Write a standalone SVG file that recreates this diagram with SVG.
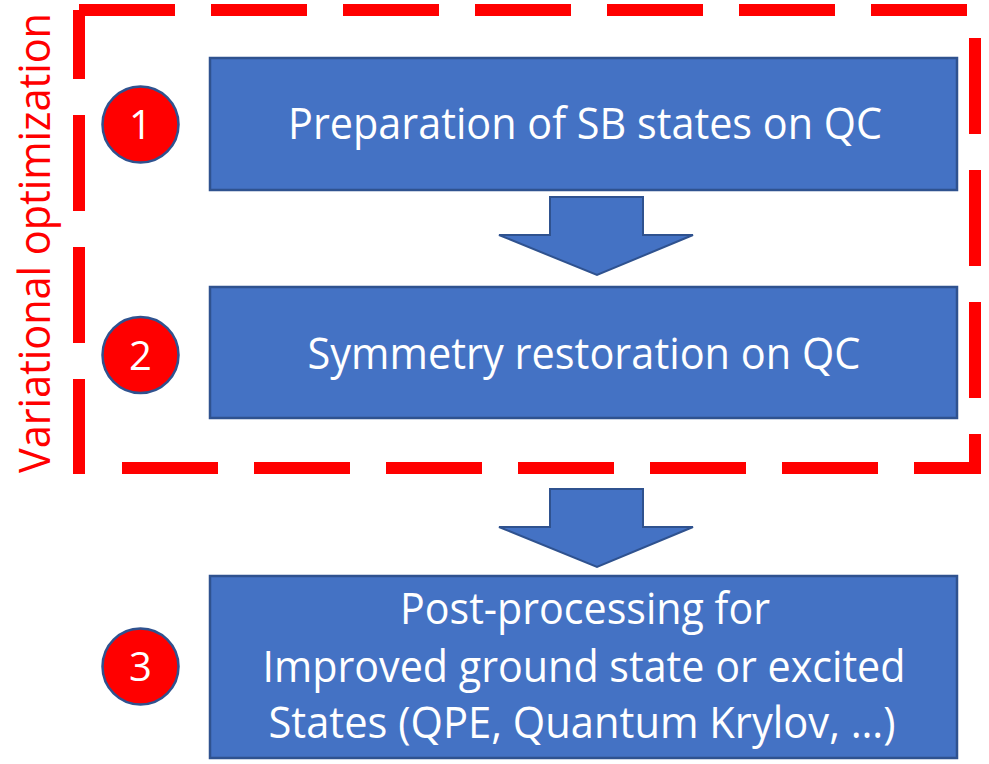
<svg xmlns="http://www.w3.org/2000/svg" width="989" height="764" viewBox="0 0 989 764">
<style>
.box{fill:#4472C4;stroke:#2F528F;stroke-width:2.5}
.arrow{fill:#4472C4;stroke:#2F528F;stroke-width:2;stroke-linejoin:miter}
.badge{fill:#FF0000;stroke:#2F528F;stroke-width:2.5}
.dash{stroke:#FF0000;stroke-width:12;fill:none;stroke-dasharray:96 36}
.lbl{font-family:"Open Sans","Liberation Sans",sans-serif;font-size:43px;fill:#FFFFFF;text-anchor:middle}
.num{font-family:"Open Sans","Liberation Sans",sans-serif;font-size:40px;fill:#FFFFFF;text-anchor:middle}
.side{font-family:"Open Sans","Liberation Sans",sans-serif;font-size:43px;fill:#FF0000}
</style>
<rect width="989" height="764" fill="#FFFFFF"/>
<g id="frame">
<line class="dash" x1="79" y1="10" x2="967" y2="10"/>
<line class="dash" x1="79" y1="10" x2="79" y2="474" stroke-dashoffset="27"/>
<line class="dash" x1="975" y1="38" x2="975" y2="474"/>
<line class="dash" x1="981" y1="468" x2="122" y2="468" stroke-dashoffset="29"/>
<text class="side" transform="translate(50,473) rotate(-90)" textLength="460" lengthAdjust="spacingAndGlyphs">Variational optimization</text>
</g>
<g id="connectors">
<polygon class="arrow" points="550,197 643,197 643,235 693,235 597,275 499,235 550,235"/>
<polygon class="arrow" points="550,489 643,489 643,527 693,527 597,567 499,527 550,527"/>
</g>
<g id="step1">
<rect class="box" x="210" y="58" width="747" height="132"/>
<text class="lbl" x="585" y="139" textLength="594" lengthAdjust="spacingAndGlyphs">Preparation of SB states on QC</text>
</g>
<g id="step2">
<rect class="box" x="210" y="287" width="747" height="131"/>
<text class="lbl" x="584" y="369" textLength="553" lengthAdjust="spacingAndGlyphs">Symmetry restoration on QC</text>
</g>
<g id="step3">
<rect class="box" x="210" y="576" width="747" height="182"/>
<text class="lbl" x="585" y="624" textLength="370" lengthAdjust="spacingAndGlyphs">Post-processing for</text>
<text class="lbl" x="584" y="682" textLength="643" lengthAdjust="spacingAndGlyphs">Improved ground state or excited</text>
<text class="lbl" x="582" y="738" textLength="627" lengthAdjust="spacingAndGlyphs">States (QPE, Quantum Krylov, …)</text>
</g>
<g id="badge1">
<circle class="badge" cx="140.5" cy="124.5" r="38"/>
<text class="num" x="140.5" y="139">1</text>
</g>
<g id="badge2">
<circle class="badge" cx="140.5" cy="355" r="38"/>
<text class="num" x="140.5" y="369.5">2</text>
</g>
<g id="badge3">
<circle class="badge" cx="140.5" cy="666.5" r="38"/>
<text class="num" x="140.5" y="681">3</text>
</g>
</svg>
